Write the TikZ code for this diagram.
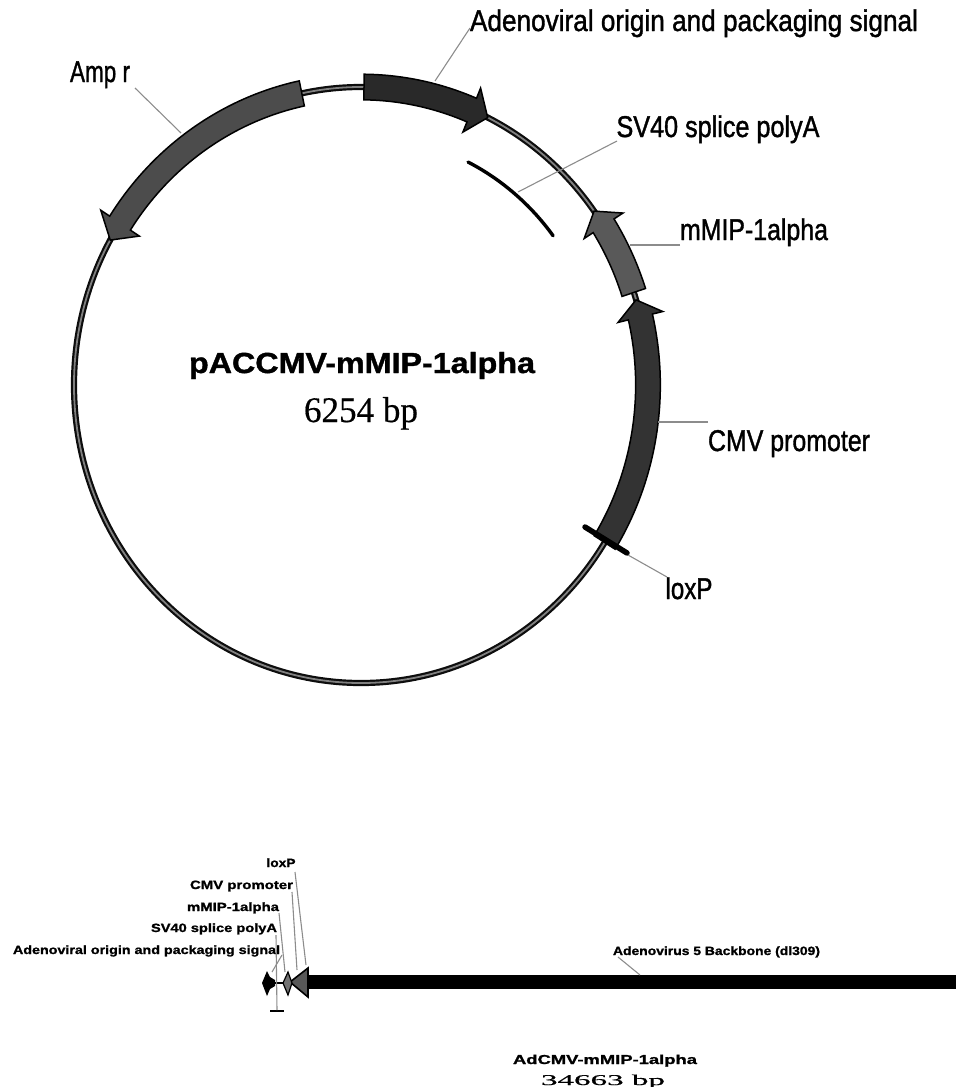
\documentclass[tikz,border=0pt]{standalone}
\usepackage{graphicx}
\usepackage{fontspec}
\setmainfont{Liberation Sans}
\newfontfamily\heavy{Liberation Sans}[FakeBold=1.4]
\newfontfamily\serifcut{Liberation Serif}[FakeBold=0.5]
\newfontfamily\extra{Liberation Sans Bold}[FakeBold=1.2]
\newcommand\fw[2]{\setbox0\hbox{#2}\pgfmathsetmacro\myr{#1/(\the\wd0)}\scalebox{\myr}[1]{\box0}}
\newcommand\feat[4]{% start, head base, tip, fill colour
  \filldraw[featline,fill=#4] (#1:1.043) arc[start angle=#1,end angle=#2,radius=1.043]
    -- (#2:1.08) -- (#3:1.0) -- (#2:0.92) -- (#2:0.957)
    arc[start angle=#2,end angle=#1,radius=0.957] -- cycle;
}
\tikzset{
  featline/.style={draw=black,line width=1.5pt,line join=miter},
  leader/.style={draw=black!45,line width=1.1pt},
  toplab/.style={inner sep=0pt,anchor=base,font=\heavy\fontsize{30}{30}\selectfont},
  botlab/.style={inner sep=0pt,anchor=base,font=\extra\fontsize{12}{12}\selectfont},
}
\definecolor{ampc}{gray}{0.30}
\definecolor{adeno}{gray}{0.16}
\definecolor{mipc}{gray}{0.35}
\definecolor{cmvc}{gray}{0.20}
\begin{document}
\begin{tikzpicture}[x=1pt,y=-1pt]
\useasboundingbox (0,0) rectangle (956,1087);
% plasmid
\begin{scope}[shift={(361,385)},x=287pt,y=298pt]
  \draw[black!95,line width=6.2pt] (0:1) arc[start angle=0,end angle=360,radius=1];
  \draw[black!50,line width=1.8pt] (0:1) arc[start angle=0,end angle=360,radius=1];
  \feat{101.9}{147.1}{150.9}{ampc}
  \feat{89.4}{67.3}{63.8}{adeno}
  \feat{18.1}{32.3}{35.7}{mipc}
  \feat{-31.9}{13.2}{16.6}{cmvc}
  \draw[black,line width=3.4pt,line cap=round] (63.5:.836) arc[start angle=63.5,end angle=36.8,radius=.836];
\end{scope}
\node[coordinate] (lx1) at (585,527) {};
\node[coordinate] (lx2) at (627,553) {};
\draw[black,line width=5.5pt,line cap=round] (lx1) -- (lx2);
% top labels
\node[toplab] (tad) at (694,31) {\fw{448}{Adenoviral origin and packaging signal}};
\node[toplab] (tamp) at (100,82) {\fw{60}{Amp r}};
\node[toplab] (tsv) at (718,137) {\fw{203}{SV40 splice polyA}};
\node[toplab] (tmip) at (754,240) {\fw{148}{mMIP-1alpha}};
\node[toplab] (tcmv) at (789,451) {\fw{162}{CMV promoter}};
\node[toplab] (tlox) at (689,599) {\fw{47}{loxP}};
\node[inner sep=0pt,anchor=base,font=\extra\fontsize{29}{29}\selectfont] (title) at (362,373) {\fw{346}{pACCMV-mMIP-1alpha}};
\node[inner sep=0pt,anchor=base,font=\serifcut\fontsize{36}{36}\selectfont] (bp) at (361,422) {\fw{114}{6254 bp}};
% top leaders
\coordinate (a1) at (470,28); \coordinate (a2) at (435,81);
\draw[leader] (a1) -- (a2);
\coordinate (b1) at (135,88); \coordinate (b2) at (181,133);
\draw[leader] (b1) -- (b2);
\coordinate (c1) at (617,141); \coordinate (c2) at (518,192);
\draw[leader] (c1) -- (c2);
\coordinate (d1) at (680,245); \coordinate (d2) at (630,245);
\draw[leader] (d1) -- (d2);
\coordinate (e1) at (708,422); \coordinate (e2) at (658,422);
\draw[leader] (e1) -- (e2);
\coordinate (f1) at (667,577); \coordinate (f2) at (628,555);
\draw[leader] (f1) -- (f2);
% linear map
\fill[black] (303,975) rectangle (956,989);
\filldraw[black,fill=black!65,line width=1.6pt] (308,968) -- (290,982) -- (308,997) -- cycle;
\draw[black,line width=2pt] (268,983) -- (290,983);
\fill[black] (262,983) -- (267,971) -- (270,977) -- (275,980) -- (275,986) -- (270,989) -- (267,996) -- cycle;
\filldraw[black,fill=black!55,line width=1.2pt] (283,983) -- (288,972) -- (292,983) -- (288,995) -- cycle;
\fill[black] (270,1009.5) rectangle (284,1012);
\node[botlab] (blox) at (281,867) {\fw{29}{loxP}};
\node[botlab] (bcmv) at (241.5,889) {\fw{103}{CMV promoter}};
\node[botlab] (bmip) at (233,911) {\fw{92}{mMIP-1alpha}};
\node[botlab] (bsv) at (214,932) {\fw{126}{SV40 splice polyA}};
\node[botlab] (bad) at (146.5,954) {\fw{267}{Adenoviral origin and packaging signal}};
\node[botlab] (bback) at (716.5,955) {\fw{207}{Adenovirus 5 Backbone (dl309)}};
\node[inner sep=0pt,anchor=base,font=\extra\fontsize{13}{13}\selectfont] (bname) at (605,1064) {\fw{184}{AdCMV-mMIP-1alpha}};
\node[inner sep=0pt,anchor=base,font=\serifcut\fontsize{15}{15}\selectfont] (bsize) at (603,1085) {\fw{124}{34663 bp}};
\coordinate (g1) at (295,872); \coordinate (g2) at (306,965);
\draw[leader] (g1) -- (g2);
\coordinate (h1) at (292,892); \coordinate (h2) at (297,970);
\draw[leader] (h1) -- (h2);
\coordinate (i1) at (279,913); \coordinate (i2) at (285,972);
\draw[leader] (i1) -- (i2);
\coordinate (j1) at (276,935); \coordinate (j2) at (277,1010);
\draw[leader] (j1) -- (j2);
\coordinate (k1) at (282,955); \coordinate (k2) at (272,972);
\draw[leader] (k1) -- (k2);
\coordinate (l1) at (618,957); \coordinate (l2) at (640,975);
\draw[leader] (l1) -- (l2);
\end{tikzpicture}
\end{document}
